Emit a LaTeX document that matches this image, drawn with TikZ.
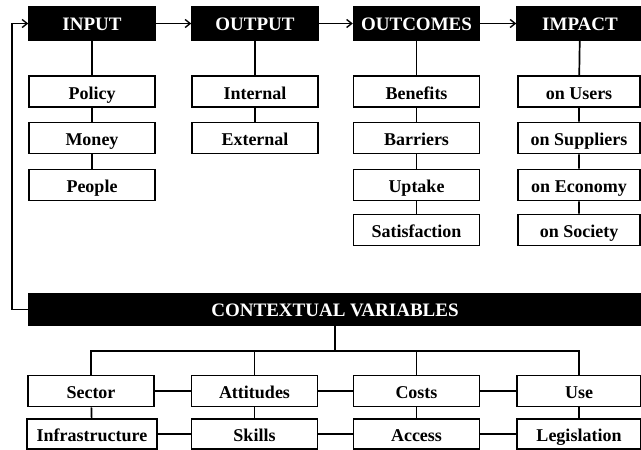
\documentclass[tikz,border=0pt]{standalone}
\usepackage{fontspec}
\setmainfont{Liberation Serif}
\usetikzlibrary{arrows.meta}
\tikzset{
  headbox/.style={draw=black, fill=black, text=white, line width=1.5pt,
    font=\fontsize{19}{21}\selectfont\bfseries,
    text height=14.5pt, text depth=0pt,
    minimum width=126pt, minimum height=33pt, inner sep=0pt},
  itembox/.style={draw=black, fill=white, line width=1.7pt,
    font=\fontsize{18}{20}\selectfont\bfseries,
    text height=15pt, text depth=0pt,
    minimum width=126pt, minimum height=31pt, inner sep=0pt},
  link/.style={line width=1.7pt},
  flow/.style={line width=1.4pt, -{Straight Barb[length=5pt,width=8pt]}},
}

\begin{document}
\begin{tikzpicture}[x=1pt, y=1pt]
\useasboundingbox (0,0) rectangle (641,-450);
% Top chain
\node[headbox] (input)    at (92,-23.5)    {INPUT};
\node[headbox] (output)   at (255,-23.5)   {OUTPUT};
\node[headbox] (outcomes) at (416.5,-23.5) {OUTCOMES};
\node[headbox] (impact)   at (580,-23.5)   {IMPACT};
\draw[flow] (input) -- (output);
\draw[flow] (output) -- (outcomes);
\draw[flow] (outcomes) -- (impact);
% Input column
\node[itembox] (policy) at (92,-91.5) {Policy};
\node[itembox] (money)  at (92,-138)  {Money};
\node[itembox] (people) at (92,-185)  {People};
\draw[link] (input) -- (policy) -- (money) -- (people);
% Output column
\node[itembox] (internal) at (255,-91.5) {Internal};
\node[itembox] (external) at (255,-138)  {External};
\draw[link] (output) -- (internal) -- (external);
% Outcomes column
\node[itembox] (benefits)     at (416.5,-91.5) {Benefits};
\node[itembox] (barriers)     at (416.5,-138)  {Barriers};
\node[itembox] (uptake)       at (416.5,-185)  {Uptake};
\node[itembox] (satisfaction) at (416.5,-230)  {Satisfaction};
\draw[link] (outcomes) -- (benefits) -- (barriers) -- (uptake) -- (satisfaction);
% Impact column
\node[itembox, minimum width=122pt] (users)     at (579,-91.5) {on Users};
\node[itembox, minimum width=122pt] (suppliers) at (579,-138)  {on Suppliers};
\node[itembox, minimum width=122pt] (economy)   at (579,-185)  {on Economy};
\node[itembox, minimum width=122pt] (society)   at (579,-230)  {on Society};
\draw[link] (impact) -- (users) -- (suppliers) -- (economy) -- (society);
% Contextual variables
\node[headbox, minimum width=612pt, minimum height=31pt] (context) at (335,-309.5) {CONTEXTUAL VARIABLES};
\coordinate (back) at (12,0);
\draw[flow] (context.west) -| (back |- input) -- (input.west);
\node[itembox] (sector)    at (91,-391)    {Sector};
\node[itembox] (attitudes) at (254.5,-391) {Attitudes};
\node[itembox] (costs)     at (416.5,-391) {Costs};
\node[itembox, minimum width=124pt] (use) at (579,-391) {Use};
\node[itembox, minimum width=130pt, minimum height=30pt] (infra) at (92,-434) {Infrastructure};
\node[itembox, minimum height=30pt] (skills) at (254.5,-434) {Skills};
\node[itembox, minimum height=30pt] (access) at (416.5,-434) {Access};
\node[itembox, minimum width=124pt, minimum height=30pt] (legislation) at (579,-434) {Legislation};
\coordinate (split) at (335,-351);
\draw[link] (context.south) -- (split);
\draw[link] (sector.north) |- (split) -| (use.north);
\draw[link] (attitudes.north) -- (attitudes.north |- split);
\draw[link] (costs.north) -- (costs.north |- split);
\draw[link] (sector) -- (attitudes) -- (costs) -- (use);
\draw[link] (infra) -- (skills) -- (access) -- (legislation);
\draw[link] (sector) -- (infra);
\draw[link] (attitudes) -- (skills);
\draw[link] (costs) -- (access);
\draw[link] (use) -- (legislation);
\end{tikzpicture}
\end{document}
